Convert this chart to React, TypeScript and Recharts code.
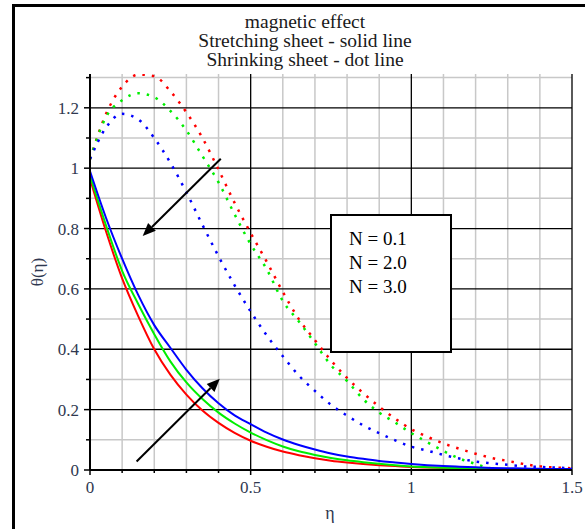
import React from "react";
import { LineChart, Line, XAxis, YAxis, CartesianGrid, ReferenceLine } from "recharts";

// eta positions (x)
const eta = [
  0, 0.05, 0.1, 0.15, 0.2, 0.25, 0.3, 0.35, 0.4, 0.45, 0.5, 0.55, 0.6, 0.65, 0.7, 0.75,
  0.8, 0.85, 0.9, 0.95, 1.0, 1.05, 1.1, 1.15, 1.2, 1.25, 1.3, 1.35, 1.4, 1.45, 1.5,
];

// stretching sheet (solid)
const stretchN01 = [
  0.965, 0.79, 0.635, 0.51, 0.4, 0.316, 0.25, 0.197, 0.156, 0.123, 0.097, 0.077, 0.061, 0.049,
  0.039, 0.031, 0.025, 0.02, 0.016, 0.013, 0.01, 0.008, 0.0065, 0.005, 0.004, 0.0032, 0.0025,
  0.002, 0.0016, 0.0013, 0.001,
];
const stretchN2 = [
  0.975, 0.81, 0.66, 0.55, 0.45, 0.36, 0.29, 0.235, 0.19, 0.154, 0.124, 0.099, 0.078, 0.062,
  0.05, 0.04, 0.032, 0.026, 0.021, 0.016, 0.012, 0.0095, 0.0075, 0.006, 0.0048, 0.0038, 0.003,
  0.0024, 0.0019, 0.0015, 0.0012,
];
const stretchN3 = [
  0.99, 0.835, 0.7, 0.58, 0.48, 0.405, 0.332, 0.271, 0.221, 0.181, 0.152, 0.124, 0.101, 0.083,
  0.068, 0.055, 0.045, 0.037, 0.03, 0.025, 0.02, 0.016, 0.013, 0.011, 0.009, 0.007, 0.006,
  0.005, 0.004, 0.003, 0.003,
];

// shrinking sheet (dotted)
const shrinkN01 = [
  1.03, 1.18, 1.27, 1.31, 1.305, 1.255, 1.185, 1.1, 0.995, 0.885, 0.785, 0.69, 0.59, 0.5,
  0.43, 0.363, 0.305, 0.255, 0.21, 0.17, 0.135, 0.11, 0.088, 0.07, 0.054, 0.04, 0.03, 0.02,
  0.012, 0.008, 0.006,
];
const shrinkN2 = [
  1.03, 1.17, 1.225, 1.248, 1.235, 1.19, 1.125, 1.04, 0.953, 0.847, 0.748, 0.665, 0.56, 0.492,
  0.42, 0.347, 0.295, 0.235, 0.19, 0.157, 0.122, 0.092, 0.063, 0.038, 0.02, 0.005, 0, 0, 0, 0, 0,
];
const shrinkN3 = [
  1.03, 1.135, 1.18, 1.162, 1.1, 1.018, 0.92, 0.812, 0.708, 0.612, 0.525, 0.446, 0.377, 0.313,
  0.262, 0.216, 0.18, 0.148, 0.122, 0.098, 0.077, 0.064, 0.05, 0.038, 0.028, 0.022, 0.017,
  0.012, 0.01, 0.008, 0.006,
];

const xTicks = [0, 0.1, 0.2, 0.3, 0.4, 0.5, 0.6, 0.7, 0.8, 0.9, 1, 1.1, 1.2, 1.3, 1.4, 1.5];
const xLabels = [0, 0.5, 1, 1.5];
const yTicks = [0, 0.1, 0.2, 0.3, 0.4, 0.5, 0.6, 0.7, 0.8, 0.9, 1, 1.1, 1.2, 1.3];
const yLabels = [0, 0.2, 0.4, 0.6, 0.8, 1, 1.2];

const gridMajorX = [0.5, 1, 1.5];
const gridMinorX = [0.1, 0.2, 0.3, 0.4, 0.6, 0.7, 0.8, 0.9, 1.1, 1.2, 1.3, 1.4];
const gridMajorY = [0.2, 0.4, 0.6, 0.8, 1, 1.2];
const gridMinorY = [0.1, 0.3, 0.5, 0.7, 0.9, 1.1, 1.3];

const legendLabels = ["N = 0.1", "N = 2.0", "N = 3.0"];
const titleLines = ["magnetic effect", "Stretching sheet - solid line", "Shrinking sheet - dot line"];

// annotation arrows, in data units
const arrows = [
  { from: { x: 0.407, y: 1.031 }, to: { x: 0.164, y: 0.775 } },
  { from: { x: 0.145, y: 0.028 }, to: { x: 0.404, y: 0.302 } },
];

const data = eta.map((e, i) => ({
  eta: e,
  s1: stretchN01[i],
  s2: stretchN2[i],
  s3: stretchN3[i],
  d1: shrinkN01[i],
  d2: shrinkN2[i],
  d3: shrinkN3[i],
}));

const SERIF = '"Liberation Serif", "Times New Roman", serif';
const LABEL_COLOR = "#2f3850";

const near = (v: number, list: number[]) => list.some((l) => Math.abs(l - v) < 1e-6);

function XTick(props: any) {
  const { x, y, payload } = props;
  const major = near(payload.value, xLabels);
  return (
    <g>
      <line x1={x} y1={y} x2={x} y2={y + (major ? 5 : 3)} stroke="#000" strokeWidth={1.5} />
      {major && (
        <text x={x} y={y + 23} textAnchor="middle" fontFamily={SERIF} fontSize={17} fill={LABEL_COLOR}>
          {String(payload.value)}
        </text>
      )}
    </g>
  );
}

function YTick(props: any) {
  const { x, y, payload } = props;
  const major = near(payload.value, yLabels);
  return (
    <g>
      <line x1={x - (major ? 6 : 4)} y1={y} x2={x} y2={y} stroke="#000" strokeWidth={1.5} />
      {major && (
        <text x={x - 11} y={y + 6} textAnchor="end" fontFamily={SERIF} fontSize={17} fill={LABEL_COLOR}>
          {String(payload.value)}
        </text>
      )}
    </g>
  );
}

function Arrow(props: any) {
  const { x1, y1, x2, y2 } = props;
  const dx = x2 - x1;
  const dy = y2 - y1;
  const len = Math.hypot(dx, dy) || 1;
  const ux = dx / len;
  const uy = dy / len;
  const hl = 13;
  const hw = 5.5;
  const bx = x2 - ux * hl;
  const by = y2 - uy * hl;
  const pts = `${x2},${y2} ${bx - uy * hw},${by + ux * hw} ${bx + uy * hw},${by - ux * hw}`;
  return (
    <g>
      <line x1={x1} y1={y1} x2={bx} y2={by} stroke="#000" strokeWidth={2} />
      <polygon points={pts} fill="#000" />
    </g>
  );
}

export default function App() {
  return (
    <div style={{ position: "absolute", left: 0, top: 0, width: 585, height: 529, background: "#fff", overflow: "hidden" }}>
      <div
        style={{
          position: "absolute",
          left: 12,
          top: 4,
          width: 600,
          height: 600,
          borderLeft: "3px solid #000",
          borderTop: "3px solid #000",
        }}
      />
      <div style={{ position: "absolute", left: 0, top: 0 }}>
        <LineChart width={585} height={529} data={data} margin={{ top: 74, right: 13, bottom: 0, left: 0 }}>
          <CartesianGrid
            stroke="#c8c8c8"
            strokeWidth={1.5}
            horizontalValues={gridMinorY}
            verticalValues={gridMinorX}
          />
          <CartesianGrid
            stroke="#000"
            strokeWidth={1.3}
            horizontalValues={gridMajorY}
            verticalValues={gridMajorX}
          />
          <XAxis
            dataKey="eta"
            type="number"
            domain={[0, 1.5]}
            ticks={xTicks}
            interval={0}
            height={59}
            tickSize={0}
            tickMargin={0}
            tick={<XTick />}
            axisLine={{ stroke: "#000", strokeWidth: 2 }}
            allowDataOverflow
          />
          <YAxis
            type="number"
            domain={[0, 1.312]}
            ticks={yTicks}
            interval={0}
            width={90}
            tickSize={0}
            tickMargin={0}
            tick={<YTick />}
            axisLine={{ stroke: "#000", strokeWidth: 2 }}
            allowDataOverflow
          />
          <Line dataKey="d1" type="monotone" stroke="#ff0000" strokeWidth={2.5} strokeDasharray="2.5 7" dot={false} isAnimationActive={false} />
          <Line dataKey="d2" type="monotone" stroke="#00ee00" strokeWidth={2.5} strokeDasharray="2.5 7" dot={false} isAnimationActive={false} />
          <Line dataKey="d3" type="monotone" stroke="#0000ff" strokeWidth={2.5} strokeDasharray="2.5 7" dot={false} isAnimationActive={false} />
          <Line dataKey="s1" type="monotone" stroke="#ff0000" strokeWidth={2} dot={false} isAnimationActive={false} />
          <Line dataKey="s2" type="monotone" stroke="#00ee00" strokeWidth={2} dot={false} isAnimationActive={false} />
          <Line dataKey="s3" type="monotone" stroke="#0000ff" strokeWidth={2} dot={false} isAnimationActive={false} />
          {arrows.map((a, i) => (
            <ReferenceLine key={i} segment={[a.from, a.to]} shape={Arrow} ifOverflow="visible" />
          ))}
        </LineChart>
      </div>
      <div
        style={{
          position: "absolute",
          left: 105,
          top: 12,
          width: 400,
          textAlign: "center",
          fontFamily: SERIF,
          fontSize: 19.5,
          lineHeight: "19px",
          color: "#1a1a1a",
        }}
      >
        {titleLines.map((t) => (
          <div key={t}>{t}</div>
        ))}
      </div>
      <div
        style={{
          position: "absolute",
          left: 330,
          top: 214,
          width: 118,
          height: 135,
          border: "2px solid #000",
          background: "#fff",
          fontFamily: SERIF,
          fontSize: 19,
          lineHeight: "24px",
          color: "#000",
        }}
      >
        <div style={{ position: "absolute", left: 17, top: 11 }}>
          {legendLabels.map((t) => (
            <div key={t} style={{ whiteSpace: "nowrap" }}>{t}</div>
          ))}
        </div>
      </div>
      <div
        style={{
          position: "absolute",
          left: 38,
          top: 272,
          transform: "translate(-50%, -50%) rotate(-90deg)",
          fontFamily: SERIF,
          fontSize: 17,
          color: LABEL_COLOR,
          whiteSpace: "nowrap",
        }}
      >
        θ(η)
      </div>
      <div
        style={{
          position: "absolute",
          left: 330,
          top: 513,
          transform: "translate(-50%, -50%)",
          fontFamily: SERIF,
          fontSize: 18,
          color: LABEL_COLOR,
        }}
      >
        η
      </div>
    </div>
  );
}
